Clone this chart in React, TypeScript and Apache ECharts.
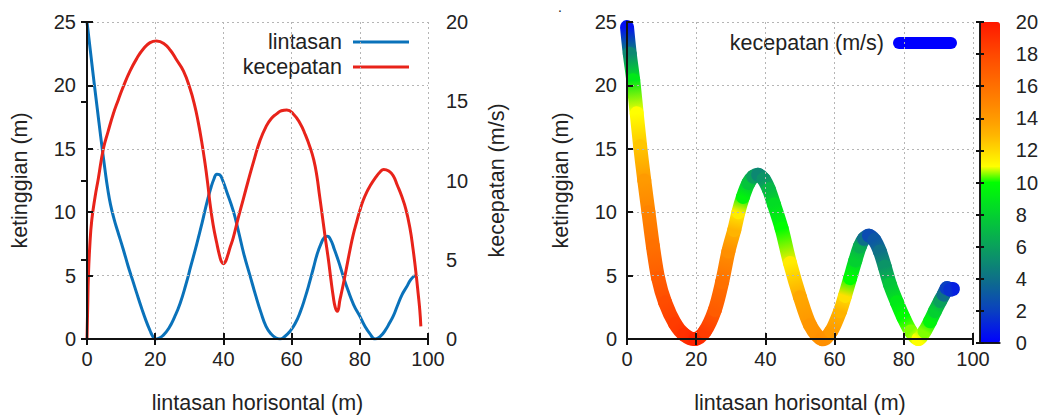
import { useEffect, useRef } from "react";
import * as echarts from "echarts";

const FONT = "Liberation Sans, Arial, sans-serif";
const TEXT = "#222";

// left chart: height profile (x, h) and speed (x, v)
const lintasan: number[][] = [
  [0, 25], [1, 22.7], [2, 20.4], [3, 18.2], [4, 16.0], [5.3, 13.3], [6.1, 11.8], [6.9, 10.6], [8, 9.4], [9, 8.5],
  [10.6, 7.1], [12, 5.8], [13.3, 4.7], [14.6, 3.6], [16, 2.45], [17.3, 1.45], [18.5, 0.65], [19.3, 0.2], [20, 0],
  [21, 0.05], [22.3, 0.28], [24, 0.85], [25.7, 1.75], [27.3, 2.8], [29, 4.3], [30.5, 5.8], [32.2, 7.5],
  [33.7, 9.1], [35.1, 10.7], [36.2, 11.8], [37.2, 12.6], [38.1, 13], [38.9, 12.95], [39.8, 12.5], [41, 11.6],
  [42.9, 10.1], [44.5, 8.4], [46, 6.7], [47.8, 5.0], [49.5, 3.4], [51, 2.1], [52.5, 1.0], [54, 0.4],
  [55.3, 0.1], [56.6, 0], [58, 0.2], [59.5, 0.6], [61, 1.2], [62.5, 2.1], [64, 3.3], [65.3, 4.5], [66.4, 5.6],
  [67.5, 6.7], [68.6, 7.5], [69.6, 8.0], [70.5, 8.1], [71.5, 7.8], [72.5, 7.1], [73.8, 6.1], [75.2, 4.9],
  [76.6, 3.8], [78.2, 2.7], [80, 1.8], [81.5, 1.0], [83, 0.4], [84.5, 0], [86, 0.2], [87.5, 0.7], [88.8, 1.3],
  [89.8, 1.8], [91, 2.6], [92.4, 3.5], [93.7, 4.1], [95, 4.7], [96.2, 5.0],
];

const kecepatan: number[][] = [
  [0, 0], [0.2, 2], [0.4, 3.9], [0.8, 5.8], [1.4, 7.5], [2.4, 9], [3.3, 10.1], [4.8, 12.0], [6.2, 13.1],
  [7.7, 14.2], [9.2, 15.1], [10.6, 15.9], [12.6, 16.9], [14.6, 17.7], [16.5, 18.3], [18.5, 18.7], [20.4, 18.8],
  [22.5, 18.65], [24.5, 18.2], [26.3, 17.6], [28.3, 16.9], [30.2, 15.8], [31.5, 14.8], [32.6, 13.7], [33.6, 12.5],
  [34.6, 11.1], [35.4, 9.8], [36.1, 8.5], [37, 7.2], [38, 6.1], [39, 5.15], [39.5, 4.85], [40, 4.75], [40.5, 4.85],
  [41, 5.1], [42, 5.8], [42.9, 6.4], [44.3, 7.6], [45.8, 8.8], [47.3, 10], [49, 11.3], [50.7, 12.5], [52.5, 13.4],
  [54, 13.9], [55.6, 14.2], [57, 14.4], [58.6, 14.45], [60.5, 14.2], [62.5, 13.6], [64, 12.9], [65.4, 12.1],
  [66.5, 11.3], [67.4, 10.3], [68.1, 9.2], [68.8, 8.1], [69.8, 6.5], [70.8, 5.0], [71.5, 3.8], [72.2, 2.7],
  [72.8, 2.0], [73.4, 1.75], [74.2, 2.5], [75.2, 3.5], [76.2, 4.6], [77.1, 5.6], [78.1, 6.6], [79.1, 7.4],
  [80, 8.1], [81, 8.75], [82, 9.25], [83, 9.65], [84.5, 10.15], [86, 10.55], [87, 10.7], [88.5, 10.6], [89.8, 10.3],
  [91, 9.7], [92.3, 9.0], [93.5, 8.2], [94.7, 7.0], [95.6, 5.7], [96.4, 4.3], [97.1, 2.9], [97.6, 1.8],
  [97.9, 0.8],
];

// right chart: (x, h, speed)
const lintasanWarna: number[][] = [
  [0, 24.6, 0.5], [0.8, 22.5, 5], [1.8, 20.4, 9], [2.8, 17.8, 11], [3.8, 15.2, 12.5], [5, 12.5, 14],
  [6.2, 10, 15], [7.5, 7.3, 16], [9, 4.8, 17], [11, 2.9, 17.8], [13.9, 1.2, 18.5], [16.5, 0.35, 19],
  [19.7, 0, 19.5], [22.5, 0.6, 18.5], [25.4, 2.3, 17], [27.5, 4.5, 16], [29.3, 6.9, 14.5], [31, 8.6, 13],
  [32.2, 10, 11.5], [33.5, 11.2, 9.5], [35.1, 12.3, 7.5], [36.5, 12.8, 6], [37.9, 12.95, 5], [39.5, 12.6, 5.5],
  [41, 11.8, 7], [42.5, 10.6, 8.5], [44.7, 8.7, 10], [47.1, 6.0, 11.5], [50, 3.3, 13.5], [52.9, 1.1, 14.2],
  [56.3, 0, 14.5], [59, 0.6, 14], [61.6, 2.2, 13], [63, 3.4, 11.8], [64.5, 4.8, 10], [66, 6.2, 8],
  [67.3, 7.3, 6.5], [68.5, 7.9, 4], [69.9, 8.15, 2.5], [71.5, 7.8, 3], [73.1, 6.9, 4], [74.5, 5.7, 5.5],
  [76, 4.3, 7.5], [78, 2.9, 9], [79.9, 1.7, 10], [82, 0.6, 10.5], [84.2, 0, 11], [86, 0.6, 10.5],
  [87.6, 1.4, 9.5], [89, 2.2, 8], [90.5, 3.0, 6], [91.5, 3.5, 4], [92.4, 4.0, 2], [93.4, 3.9, 1.5], [94.2, 3.95, 1],
];

const paletteColors = [
  "#0000ff", "#0520e0", "#0a40c0", "#0c58a4", "#0e7088", "#0c8872", "#0aa05c", "#06b846", "#03d030",
  "#01e818", "#00ff00", "#ffff00", "#ffd800", "#ffb400", "#ff9a00", "#ff8400", "#ff7000", "#ff5c00",
  "#ff4800", "#ff3000", "#ff1800",
];

const gridStyle = { show: true, lineStyle: { color: "#b5b5b5", width: 1, type: [2, 3] as any } };
const axLine = { show: true, lineStyle: { color: "#111", width: 2 } };
const tickIn = { show: true, inside: true, length: 6, lineStyle: { color: "#111", width: 2 } };
const lbl = (margin: number) => ({ show: true, fontSize: 20, color: TEXT, fontFamily: FONT, margin });

export default function App() {
  const ref = useRef<HTMLDivElement>(null);
  useEffect(() => {
    if (!ref.current) return;
    const chart = echarts.init(ref.current, undefined, { renderer: "svg" });
    const nameStyle = { fontSize: 21.5, color: TEXT, fontFamily: FONT };
    const legendText = { fontSize: 21.5, color: TEXT, fontFamily: FONT };
    const option: any = {
      animation: false,
      grid: [
        { left: 87, top: 22, width: 341, height: 321 },
        { left: 627, top: 22, width: 346, height: 321 },
        { left: 980, top: 22, width: 20, height: 321 },
      ],
      xAxis: [
        {
          gridIndex: 0, type: "value", min: 0, max: 100, interval: 20, position: "bottom", z: 5,
          axisLine: axLine, axisTick: tickIn, axisLabel: lbl(10), splitLine: gridStyle,
          name: "lintasan horisontal (m)", nameLocation: "middle", nameGap: 53, nameTextStyle: nameStyle,
        },
        {
          gridIndex: 0, type: "value", min: 0, max: 100, interval: 20, position: "top", z: 5,
          axisLine: axLine, axisTick: tickIn, axisLabel: { show: false }, splitLine: { show: false },
        },
        {
          gridIndex: 1, type: "value", min: 0, max: 100, interval: 20, position: "bottom", z: 5,
          axisLine: axLine, axisTick: tickIn, axisLabel: lbl(10), splitLine: gridStyle,
          name: "lintasan horisontal (m)", nameLocation: "middle", nameGap: 53, nameTextStyle: nameStyle,
        },
        {
          gridIndex: 1, type: "value", min: 0, max: 100, interval: 20, position: "top", z: 5,
          axisLine: axLine, axisTick: tickIn, axisLabel: { show: false }, splitLine: { show: false },
        },
        {
          gridIndex: 2, type: "value", min: 0, max: 1, position: "bottom", z: 10,
          axisLine: { show: true, lineStyle: { color: "#111", width: 1.5 } }, axisTick: { show: false },
          axisLabel: { show: false }, splitLine: { show: false },
        },
        {
          gridIndex: 2, type: "value", min: 0, max: 1, position: "top", z: 10,
          axisLine: { show: true, lineStyle: { color: "#111", width: 1.5 } }, axisTick: { show: false },
          axisLabel: { show: false }, splitLine: { show: false },
        },
      ],
      yAxis: [
        {
          gridIndex: 0, type: "value", min: 0, max: 25, interval: 5, position: "left", z: 5,
          axisLine: axLine, axisTick: tickIn, axisLabel: lbl(11), splitLine: gridStyle,
          name: "ketinggian (m)", nameLocation: "middle", nameGap: 56, nameRotate: 90, nameTextStyle: nameStyle,
        },
        {
          gridIndex: 0, type: "value", min: 0, max: 20, interval: 5, position: "right", z: 5,
          axisLine: axLine, axisTick: tickIn, axisLabel: lbl(18), splitLine: { show: false },
          name: "kecepatan (m/s)", nameLocation: "middle", nameGap: 58, nameRotate: 90, nameTextStyle: nameStyle,
        },
        {
          gridIndex: 1, type: "value", min: 0, max: 25, interval: 5, position: "left", z: 5,
          axisLine: axLine, axisTick: tickIn, axisLabel: lbl(10), splitLine: gridStyle,
          name: "ketinggian (m)", nameLocation: "middle", nameGap: 55, nameRotate: 90, nameTextStyle: nameStyle,
        },
        {
          gridIndex: 1, type: "value", min: 0, max: 25, interval: 5, position: "right", z: 5,
          axisLine: axLine, axisTick: { show: false }, axisLabel: { show: false }, splitLine: { show: false },
        },
        {
          gridIndex: 2, type: "value", min: 0, max: 20, interval: 2, position: "left", z: 10,
          axisLine: { show: true, lineStyle: { color: "#111", width: 1.5 } },
          axisTick: { show: true, inside: true, length: 4, lineStyle: { color: "#111", width: 2 } },
          axisLabel: { show: false }, splitLine: { show: false },
        },
        {
          gridIndex: 2, type: "value", min: 0, max: 20, interval: 2, position: "right", z: 10,
          axisLine: { show: true, lineStyle: { color: "#111", width: 1.5 } },
          axisTick: { show: true, inside: true, length: 4, lineStyle: { color: "#111", width: 2 } },
          axisLabel: lbl(16), splitLine: { show: false },
        },
      ],
      legend: [
        {
          data: ["lintasan", "kecepatan"], orient: "vertical", align: "right", right: 1041 - 409, top: 31,
          itemWidth: 56, itemHeight: 3, itemGap: 3, padding: 0, selectedMode: false, icon: "rect",
          textStyle: { ...legendText, padding: [0, 6, 0, 0] },
        },
        {
          data: [{ name: "kecepatan (m/s)", itemStyle: { color: "#0000ff" } }], orient: "vertical", align: "right",
          right: 1041 - 957, top: 32, itemWidth: 64, itemHeight: 12, padding: 0, selectedMode: false,
          icon: "path://M6,0 L58,0 A6,6 0 0 1 58,12 L6,12 A6,6 0 0 1 6,0 Z",
          textStyle: { ...legendText, padding: [0, 4, 0, 0] },
        },
      ],
      visualMap: {
        type: "continuous", min: 0, max: 20, dimension: 2, seriesIndex: 2, calculable: false,
        orient: "vertical", left: 980, top: 22, itemWidth: 20, itemHeight: 321, padding: 0,
        text: null, showLabel: false, hoverLink: false,
        inRange: { color: paletteColors },
      },
      graphic: [
        { type: "text", left: 558, top: 0, style: { text: ".", fontSize: 14, fill: TEXT, fontFamily: FONT } },
      ],
      series: [
        {
          name: "lintasan", type: "line", xAxisIndex: 0, yAxisIndex: 0, data: lintasan, symbol: "none",
          smooth: 0.5, lineStyle: { color: "#0a72ba", width: 3 }, itemStyle: { color: "#0a72ba" }, z: 3,
        },
        {
          name: "kecepatan", type: "line", xAxisIndex: 0, yAxisIndex: 1, data: kecepatan, symbol: "none",
          smooth: 0.5, lineStyle: { color: "#e8231a", width: 3 }, itemStyle: { color: "#e8231a" }, z: 3,
        },
        {
          name: "kecepatan (m/s)", type: "custom", xAxisIndex: 2, yAxisIndex: 2, data: lintasanWarna,
          encode: { x: 0, y: 1 }, clip: false, z: 3,
          renderItem: (params: any, api: any) => {
            const i = params.dataIndexInside;
            const n = params.dataInsideLength;
            if (i >= n - 1) return null;
            const pt = (k: number) => api.coord([api.value(0, k), api.value(1, k)]);
            const p1 = pt(i);
            const p2 = pt(i + 1);
            const p0 = i > 0 ? pt(i - 1) : p1;
            const p3 = i + 2 < n ? pt(i + 2) : p2;
            const c0 = api.visual("color", i);
            const c1 = api.visual("color", i + 1);
            return {
              type: "bezierCurve",
              shape: {
                x1: p1[0], y1: p1[1], x2: p2[0], y2: p2[1],
                cpx1: p1[0] + (p2[0] - p0[0]) / 6, cpy1: p1[1] + (p2[1] - p0[1]) / 6,
                cpx2: p2[0] - (p3[0] - p1[0]) / 6, cpy2: p2[1] - (p3[1] - p1[1]) / 6,
              },
              style: {
                stroke: new echarts.graphic.LinearGradient(p1[0], p1[1], p2[0], p2[1], [
                  { offset: 0, color: c0 }, { offset: 1, color: c1 },
                ], true),
                lineWidth: 14, lineCap: "round", fill: null,
              },
            };
          },
        },
      ],
    };
    chart.setOption(option);
    return () => chart.dispose();
  }, []);
  return <div ref={ref} style={{ position: "fixed", left: 0, top: 0, width: 1041, height: 419, background: "#fff" }} />;
}
